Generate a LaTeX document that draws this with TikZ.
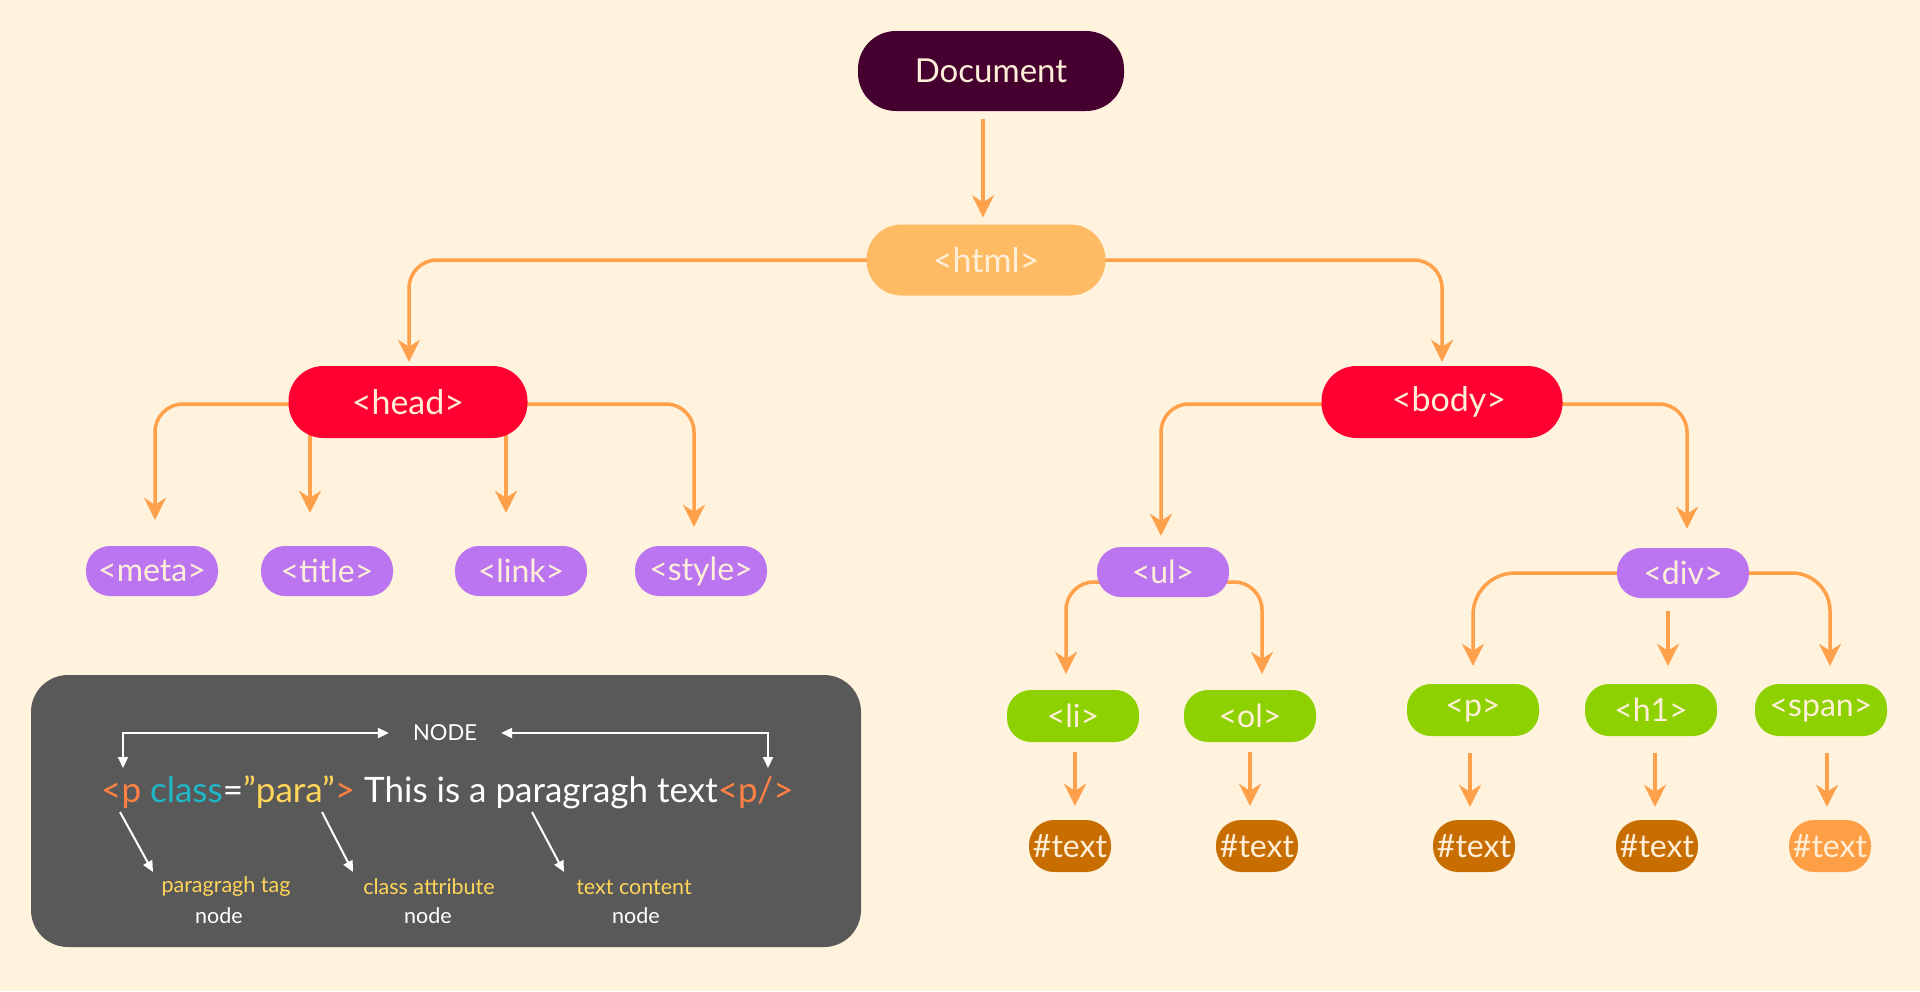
\documentclass[tikz,border=0pt]{standalone}
\usepackage{fontspec}
\setmainfont{Lato}
\usetikzlibrary{arrows.meta,calc}
\definecolor{bgc}{HTML}{FFF3DE}
\definecolor{docc}{HTML}{450030}
\definecolor{htmlc}{HTML}{FFBB64}
\definecolor{redc}{HTML}{FF0030}
\definecolor{purc}{HTML}{BC75F1}
\definecolor{grnc}{HTML}{8DD100}
\definecolor{txtc}{HTML}{C86E00}
\definecolor{txtl}{HTML}{FF9F45}
\definecolor{arrc}{HTML}{FFA04A}
\definecolor{creamc}{HTML}{FFEFD8}
\definecolor{legc}{HTML}{595959}
\definecolor{tagc}{HTML}{FF8244}
\definecolor{attc}{HTML}{1EB8C8}
\definecolor{valc}{HTML}{FFD55A}
\pgfdeclarelayer{bg}
\pgfsetlayers{bg,main}
\begin{document}
\begin{tikzpicture}[x=1pt,y=-1pt,
  pill/.style={inner sep=0pt, text=creamc, font=\fontsize{32}{36}\selectfont},
  big/.style={pill, minimum width=239pt, minimum height=72pt, rounded corners=35pt, font=\fontsize{34}{38}\selectfont},
  small/.style={pill, minimum width=132pt, minimum height=50pt, rounded corners=24pt},
  leaf/.style={pill, minimum width=82pt, minimum height=52pt, rounded corners=25pt, fill=txtc},
  conn/.style={draw=arrc, line width=3.5pt, rounded corners=28pt, -{Stealth[length=22pt,width=22pt,inset=7pt]}},
  wconn/.style={draw=white, line width=2pt, arrows={-Triangle[length=11pt,width=10pt]}},
  wtext/.style={inner sep=0pt, text=white},
  labtext/.style={inner sep=0pt, text=valc, font=\fontsize{21.5}{24}\selectfont},
  nodetext/.style={inner sep=0pt, text=white, font=\fontsize{21.5}{24}\selectfont}
]
\begin{pgfonlayer}{bg}
\fill[bgc] (0,0) rectangle (1920,991);
\end{pgfonlayer}
\useasboundingbox (0,0) rectangle (1920,991);

% tree nodes
\node[pill, fill=docc, minimum width=266pt, minimum height=80pt, rounded corners=38pt, text=creamc, font=\fontsize{33}{38}\selectfont] (doc) at (991,71) {Document};
\node[big, fill=htmlc, minimum height=71pt] (html) at (986,260) {<html>};
\node[big, fill=redc] (head) at (408,402) {<head>};
\node[big, fill=redc, minimum width=241pt] (body) at (1442,402) {\hspace*{14pt}<body>};
\node[small, fill=purc] (meta) at (152,571) {<meta>};
\node[small, fill=purc] (title) at (327,571) {<title>};
\node[small, fill=purc] (link) at (521,571) {<link>};
\node[small, fill=purc] (style) at (701,571) {<style>};
\node[small, fill=purc] (ul) at (1163,572) {<ul>};
\node[small, fill=purc] (div) at (1683,573) {<div>};
\node[small, fill=grnc, minimum height=52pt] (li) at (1073,716) {<li>};
\node[small, fill=grnc, minimum height=52pt] (ol) at (1250,716) {<ol>};
\node[small, fill=grnc, minimum height=52pt] (p) at (1473,710) {<p>};
\node[small, fill=grnc, minimum height=52pt] (h1) at (1651,710) {<h1>};
\node[small, fill=grnc, minimum height=52pt] (span) at (1821,710) {<span>};
\node[leaf] (t1) at (1070,846) {\#text};
\node[leaf] (t2) at (1257,846) {\#text};
\node[leaf] (t3) at (1474,846) {\#text};
\node[leaf] (t4) at (1657,846) {\#text};
\node[leaf, fill=txtl] (t5) at (1830,846) {\#text};

% connectors
\begin{pgfonlayer}{bg}
\draw[conn] ($(doc.south)+(-8,8)$) -- ($(html.north)+(-3,-7)$);
\draw[conn] (html.center) -| ($(head.north)+(1,-4)$);
\draw[conn] (html.center) -| ($(body.north)+(0,-4)$);
\draw[conn] ($(head.center)+(0,2)$) -| ($(meta.north)+(3,-26)$);
\draw[conn] ($(title.north)+(-17,-130)$) -- ($(title.north)+(-17,-33)$);
\draw[conn] ($(link.north)+(-15,-130)$) -- ($(link.north)+(-15,-33)$);
\draw[conn] ($(head.center)+(0,2)$) -| ($(style.north)+(-7,-19)$);
\draw[conn] ($(body.center)+(0,2)$) -| ($(ul.north)+(-2,-11)$);
\draw[conn] ($(body.center)+(0,2)$) -| ($(div.north)+(4,-19)$);
\draw[conn] ($(ul.center)+(0,10)$) -| ($(li.north)+(-7,-16)$);
\draw[conn] ($(ul.center)+(0,10)$) -| ($(ol.north)+(12,-16)$);
\draw[conn, rounded corners=42pt] (div.center) -| ($(p.north)+(0,-18)$);
\draw[conn] ($(h1.north)+(17,-73)$) -- ($(h1.north)+(17,-18)$);
\draw[conn, rounded corners=38pt] (div.center) -| ($(span.north)+(9,-18)$);
\draw[conn] ($(li.south)+(2,10)$) -- ($(t1.north)+(5,-14)$);
\draw[conn] ($(ol.south)+(0,10)$) -- ($(t2.north)+(-7,-14)$);
\draw[conn] ($(p.south)+(-3,17)$) -- ($(t3.north)+(-4,-13)$);
\draw[conn] ($(h1.south)+(4,17)$) -- ($(t4.north)+(-2,-13)$);
\draw[conn] ($(span.south)+(6,17)$) -- ($(t5.north)+(-3,-13)$);
\end{pgfonlayer}

% legend
\node[fill=legc, rounded corners=37pt, minimum width=830pt, minimum height=272pt, inner sep=0pt] (legend) at (446,811) {};
\node[wtext, font=\fontsize{22}{25}\selectfont] (nd) at (445,733) {NODE};
\coordinate (cL) at (123,768);
\coordinate (cR) at (768,768);
\draw[wconn, arrows={Triangle[length=11pt,width=10pt]-Triangle[length=11pt,width=10pt]}] ($(nd.west)+(-24,0)$) -| (cL);
\draw[wconn, arrows={Triangle[length=11pt,width=10pt]-Triangle[length=11pt,width=10pt]}] ($(nd.east)+(24,0)$) -| (cR);
\node[anchor=base west, inner sep=0pt, font=\fontsize{35}{42}\selectfont] (line) at (101,802)
  {\textcolor{tagc}{<p} \textcolor{attc}{class}\textcolor{white}{=}\textcolor{valc}{”para”}\textcolor{tagc}{>} \textcolor{white}{This is a paragragh text}\textcolor{tagc}{<p/>}};
\node[labtext] (lab1) at (226,887) {paragragh tag};
\node[nodetext] (n1) at (219,916) {node};
\node[labtext] (lab2) at (429,887) {class attribute};
\node[nodetext] (n2) at (428,916) {node};
\node[labtext] (lab3) at (634,887) {text content};
\node[nodetext] (n3) at (636,916) {node};
\draw[wconn] ($(line.base west)+(19,10)$) -- ($(lab1.center)+(-73,-15)$);
\draw[wconn] ($(line.base west)+(221,10)$) -- ($(lab2.center)+(-76,-15)$);
\draw[wconn] ($(line.base west)+(431,10)$) -- ($(lab3.center)+(-70,-15)$);
\end{tikzpicture}
\end{document}
